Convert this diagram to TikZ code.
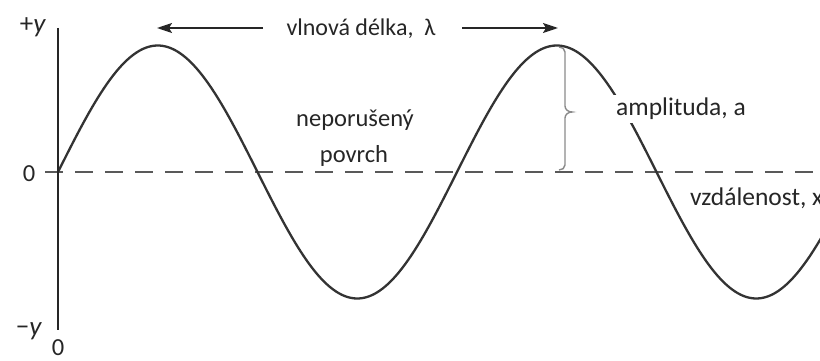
\documentclass[tikz,border=0pt]{standalone}
\usepackage{fontspec}
\setmainfont{Carlito}
\usetikzlibrary{arrows.meta}
\definecolor{ink}{HTML}{262626}
\definecolor{wavecol}{HTML}{333333}
\definecolor{bracecol}{HTML}{8A8A8A}
\begin{document}
\begin{tikzpicture}[x=1pt,y=-1pt,
  lbl/.style={font=\fontsize{24.5}{28}\selectfont, text=ink, inner sep=0pt},
  biglbl/.style={font=\fontsize{25.5}{29}\selectfont, text=ink, inner sep=0pt},
  axlbl/.style={font=\fontsize{27}{30}\selectfont, text=ink, inner sep=0pt},
  wave/.style={line width=2.3pt, draw=wavecol},
  axisline/.style={line width=1.4pt, draw=ink},
  baseline/.style={line width=1.8pt, draw=black!65, dash pattern=on 18pt off 12pt},
  arr/.style={line width=1.8pt, draw=ink, -{Stealth[length=15pt,width=10pt,inset=3pt]}},
  bracket/.style={line width=1.4pt, draw=bracecol}]
\useasboundingbox (0,0) rectangle (820,361);
% baseline (undisturbed surface)
\coordinate (b0) at (45,172);
\coordinate (b1) at (820,172);
\draw[baseline] (b0) -- (b1);
% wave
\draw[wave] plot[domain=58:822, samples=300] (\x, {172 - 126.5*sin((\x-58)/399*360)});
% y axis
\coordinate (ytop) at (58,28);
\coordinate (ybot) at (58,330);
\draw[axisline] (ytop) -- (ybot);
% axis labels
\node[axlbl] (py) at (33,27) {+\textit{y}};
\node[axlbl] (my) at (29,331) {−\textit{y}};
\node[lbl] (z0) at (29,174) {0};
\node[lbl] (z1) at (58,348) {0};
% wavelength
\node[lbl, anchor=base, font=\fontsize{24}{28}\selectfont] (wl) at (361,36) {vlnová délka,\ \ λ};
\coordinate (lt) at (157,28);
\coordinate (la) at (263,28);
\coordinate (rt) at (558,28);
\coordinate (ra) at (462,28);
\draw[arr] (la) -- (lt);
\draw[arr] (ra) -- (rt);
% amplitude bracket
\coordinate (at) at (559,47);
\coordinate (ab) at (559,170);
\draw[bracket] (at) to[out=0,in=90] (565,52) -- (565,106) to[out=-90,in=180] (572,112)
  to[out=180,in=90] (565,118) -- (565,165) to[out=-90,in=0] (ab);
\node[biglbl, anchor=base west, fill=white, inner sep=3pt] (amp) at (613,116) {amplituda, a};
% undisturbed surface
\node[lbl, anchor=base] (np1) at (355,126) {neporušený};
\node[lbl, anchor=base] (np2) at (354,162) {povrch};
% distance
\node[biglbl, anchor=base west] (dist) at (690,205) {vzdálenost, x};
\end{tikzpicture}
\end{document}
